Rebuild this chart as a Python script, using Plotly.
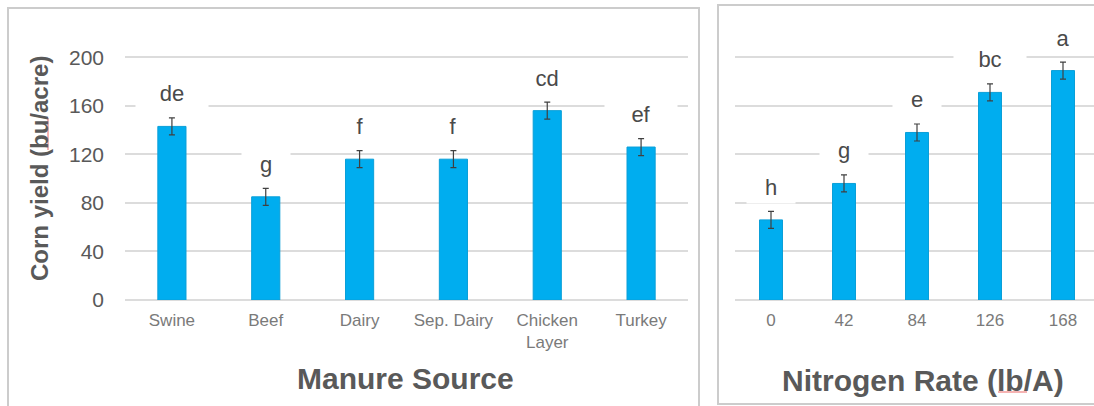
import plotly.graph_objects as go

# ---- data ----
manure_sources = ["Swine", "Beef", "Dairy", "Sep. Dairy", "Chicken<br>Layer", "Turkey"]
manure_yield = [143, 85, 116, 116, 156, 126]
manure_err = [7, 7, 7, 7, 7, 7]
manure_letters = ["de", "g", "f", "f", "cd", "ef"]

n_rates = ["0", "42", "84", "126", "168"]
n_yield = [66, 96, 138, 171, 189]
n_err = [7, 7, 7, 7, 7]
n_letters = ["h", "g", "e", "bc", "a"]

y_ticks = [0, 40, 80, 120, 160, 200]

# ---- canvas ----
W, H = 1094, 406
FONT = "Arial, Liberation Sans, sans-serif"
BAR = "#00ADEF"
GRID = "#dcdcdc"


def px(x):
    return x / W


def py(y):
    return (H - y) / H


fig = go.Figure()

fig.add_trace(go.Bar(
    x=manure_sources, y=manure_yield, width=0.3,
    marker=dict(color=BAR, line=dict(color="#0a9fd8", width=1)),
    error_y=dict(type="data", array=manure_err, color="#404040", thickness=1.2, width=3),
    xaxis="x", yaxis="y", showlegend=False,
))
fig.add_trace(go.Bar(
    x=n_rates, y=n_yield, width=0.315,
    marker=dict(color=BAR, line=dict(color="#0a9fd8", width=1)),
    error_y=dict(type="data", array=n_err, color="#404040", thickness=1.2, width=3),
    xaxis="x2", yaxis="y2", showlegend=False,
))


# letter groupings above the bars, on white boxes that break the gridlines
def letter_notes(vals, letters, xref, yref):
    notes = []
    for i, (v, t) in enumerate(zip(vals, letters)):
        notes.append(dict(
            x=i, y=v, xref=xref, yref=yref, text=t, showarrow=False,
            yanchor="middle", yshift=33, bgcolor="white",
            width=24 * len(t) + 22, height=30,
            font=dict(family=FONT, size=22, color="#4a4a4a"),
        ))
    return notes


annotations = letter_notes(manure_yield, manure_letters, "x", "y")
annotations += letter_notes(n_yield, n_letters, "x2", "y2")

annotations += [
    dict(text="<b>Corn yield (bu/acre)</b>", x=px(39), y=py(169), xref="paper", yref="paper",
         textangle=-90, showarrow=False, xanchor="center", yanchor="middle",
         font=dict(family=FONT, size=24, color="#595959")),
    dict(text="<b>Manure Source</b>", x=px(405), y=py(378), xref="paper", yref="paper",
         showarrow=False, xanchor="center", yanchor="middle",
         font=dict(family=FONT, size=30, color="#595959")),
    dict(text="<b>Nitrogen Rate (lb/A)</b>", x=px(923), y=py(380), xref="paper", yref="paper",
         showarrow=False, xanchor="center", yanchor="middle",
         font=dict(family=FONT, size=30, color="#595959")),
]

shapes = [
    # chart frames
    dict(type="rect", xref="paper", yref="paper", x0=px(8), x1=px(699), y0=py(412), y1=py(8),
         line=dict(color="#cccccc", width=2), fillcolor="rgba(0,0,0,0)", layer="below"),
    dict(type="rect", xref="paper", yref="paper", x0=px(718), x1=px(1110), y0=py(404), y1=py(5),
         line=dict(color="#cccccc", width=2), fillcolor="rgba(0,0,0,0)", layer="below"),
]

# spell-check underlines
for x0, x1, y in [(633, 657, 120), (975, 1005, 70), (998, 1027, 392)]:
    shapes.append(dict(type="line", xref="paper", yref="paper", x0=px(x0), x1=px(x1),
                       y0=py(y), y1=py(y), line=dict(color="#f29a9a", width=1.5)))
shapes.append(dict(type="line", xref="paper", yref="paper", x0=px(48), x1=px(48),
                   y0=py(118), y1=py(150), line=dict(color="#f29a9a", width=1.5)))

common_y = dict(range=[0, 201], tickvals=y_ticks, showgrid=True, gridcolor=GRID, gridwidth=2,
                zeroline=True, zerolinecolor=GRID, zerolinewidth=2, showline=False, ticks="",
                domain=[py(300), py(56)], fixedrange=True, automargin=False)

fig.update_layout(
    width=W, height=H,
    margin=dict(l=0, r=0, t=0, b=0, pad=0, autoexpand=False),
    paper_bgcolor="white", plot_bgcolor="white",
    bargap=0.7,
    xaxis=dict(type="category", domain=[px(125), px(688)], range=[-0.5, 5.5], showgrid=False,
               showline=False, ticks="", ticklabelstandoff=8, automargin=False,
               tickfont=dict(family=FONT, size=17, color="#7a7a7a")),
    yaxis=dict(**common_y, ticklabelstandoff=20,
               tickfont=dict(family=FONT, size=21, color="#595959")),
    xaxis2=dict(type="category", domain=[px(734.5), 1], range=[-0.5, 4.5 - 5.5 / 73],
                showgrid=False, showline=False, ticks="", ticklabelstandoff=8, automargin=False,
                tickfont=dict(family=FONT, size=17, color="#7a7a7a")),
    yaxis2=dict(**common_y, anchor="x2", showticklabels=False),
    annotations=annotations,
    shapes=shapes,
)

fig.write_html("out.html")
